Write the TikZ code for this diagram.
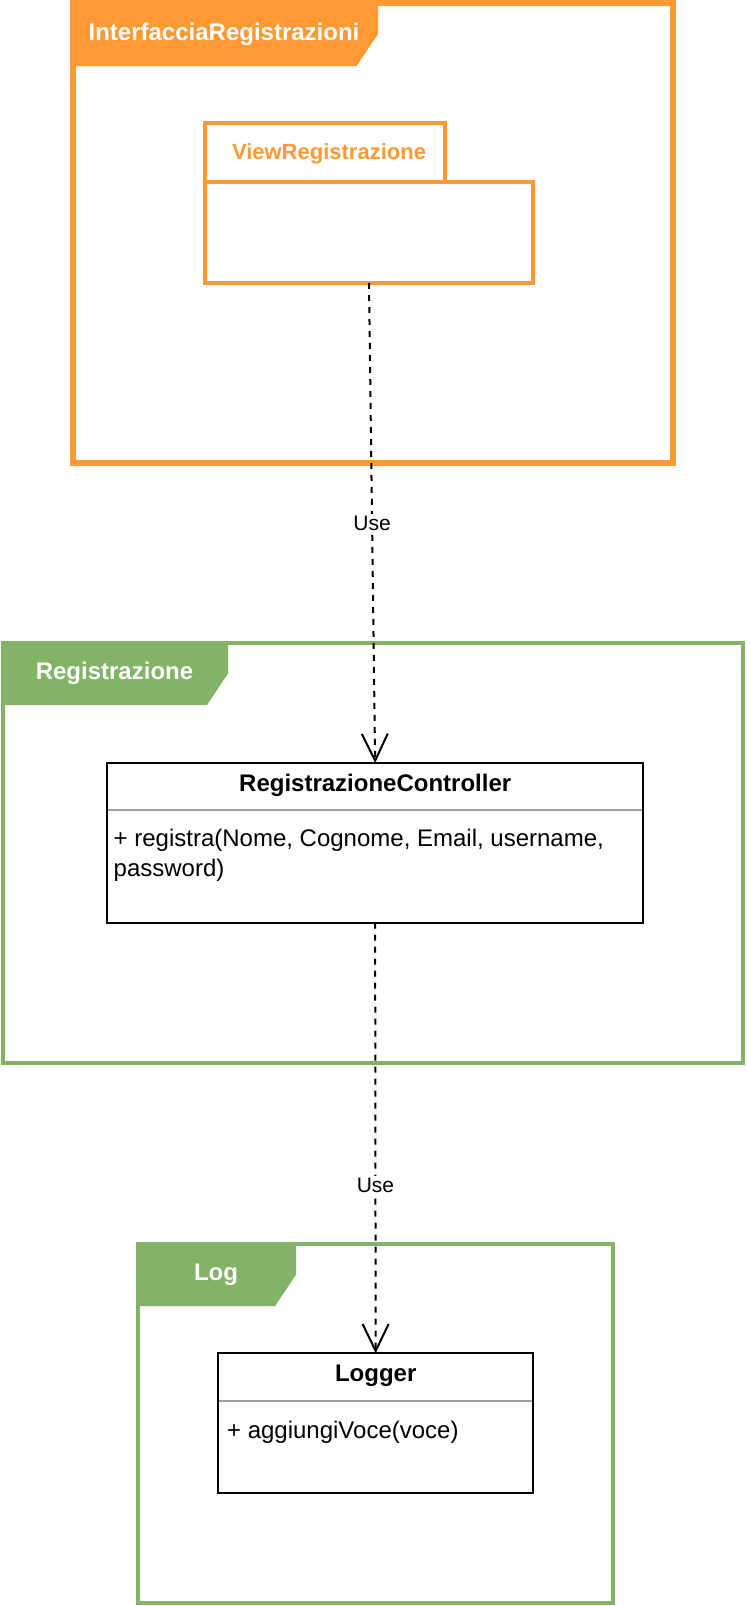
\documentclass[tikz,border=0pt]{standalone}
\usepackage{fontspec}
\setmainfont{Liberation Sans}
\usetikzlibrary{arrows.meta,positioning}

\definecolor{pkgorange}{HTML}{FF9933}
\definecolor{pkggreen}{HTML}{82B366}

\begin{document}
\begin{tikzpicture}[x=0.5pt,y=-0.5pt,
        pkgframe/.style={draw=#1,anchor=north west,inner sep=0pt,outer sep=0pt},
        tabtext/.style={font=\bfseries\fontsize{12}{14}\selectfont,anchor=base,inner sep=0pt},
        classbox/.style={draw=black,line width=1pt,anchor=north west,inner sep=0pt,outer sep=0pt},
        member/.style={font=\fontsize{12}{14}\selectfont,anchor=base west,inner sep=0pt},
        sep/.style={draw=gray!75,line width=0.8pt},
        use/.style={line width=1pt,dash pattern=on 3pt off 3pt,-{Straight Barb[length=13.5pt,width=13pt]}},
        uselabel/.style={fill=white,font=\fontsize{10.5}{12}\selectfont,inner sep=1pt}]
        \useasboundingbox (0,0) rectangle (746,1606);

        % InterfacciaRegistrazioni
        \node[pkgframe=pkgorange,line width=3pt,minimum width=300pt,minimum height=230pt] (interfaccia) at (73,3) {};
        \filldraw[pkgorange,line width=3pt] (73,3) -- (375,3) -- (375,33) -- (355,63) -- (73,63) -- cycle;
        \node[tabtext,white] (interfacciatab) at (224,40) {InterfacciaRegistrazioni};

        % ViewRegistrazione
        \draw[pkgorange,line width=1.6pt] (205,123) rectangle (445,182);
        \node[tabtext,pkgorange,font=\bfseries\fontsize{11}{13}\selectfont] (viewtab) at (329,159) {ViewRegistrazione};
        \node[pkgframe=pkgorange,line width=1.6pt,minimum width=164pt,minimum height=50.5pt] (view) at (205,182) {};

        % Registrazione
        \node[pkgframe=pkggreen,line width=2pt,minimum width=370pt,minimum height=210pt] (registrazione) at (3,643) {};
        \filldraw[pkggreen,line width=2pt] (3,643) -- (226,643) -- (226,673) -- (206,703) -- (3,703) -- cycle;
        \node[tabtext,white] (registrazionetab) at (114.5,679.3) {Registrazione};

        % RegistrazioneController
        \node[classbox,minimum width=267.85pt,minimum height=79.75pt] (controller) at (107.3,763) {};
        \node[tabtext] (controllername) at (375.2,791.7) {RegistrazioneController};
        \draw[sep] (108,810) -- (642,810);
        \node[member] (registra) at (113.3,846) {+ registra(Nome, Cognome, Email, username,};
        \node[member] (registrab) at (113.3,876.7) {password)};

        % Log
        \node[pkgframe=pkggreen,line width=2pt,minimum width=237.5pt,minimum height=179.5pt] (log) at (138,1244) {};
        \filldraw[pkggreen,line width=2pt] (138,1244) -- (294,1244) -- (294,1274) -- (274,1304) -- (138,1304) -- cycle;
        \node[tabtext,white] (logtab) at (216,1280) {Log};

        % Logger
        \node[classbox,minimum width=157.35pt,minimum height=69.85pt] (logger) at (218.3,1353.3) {};
        \node[tabtext] (loggername) at (375.7,1381.7) {Logger};
        \draw[sep] (219,1401) -- (532,1401);
        \node[member] (aggiungi) at (226.7,1438.3) {+ aggiungiVoce(voce)};

        % Use
        \draw[use] (view.south) -- (controller.north) node[uselabel,pos=0.5] (useview) {Use};
        \draw[use] (controller.south) -- (logger.north) node[uselabel,pos=0.61] (uselog) {Use};
\end{tikzpicture}
\end{document}
